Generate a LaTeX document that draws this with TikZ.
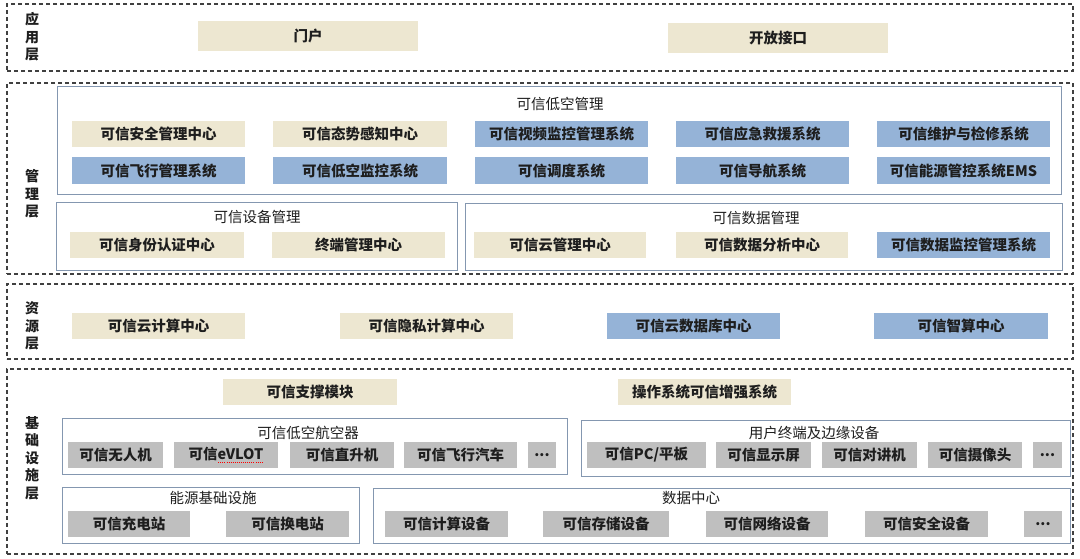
\documentclass[tikz,border=0pt]{standalone}
\usepackage{fontspec}
\setmainfont{Noto Sans CJK SC}
\definecolor{beige}{HTML}{EDE7D1}
\definecolor{lblue}{HTML}{95B3D7}
\definecolor{lgray}{HTML}{BFBFBF}
\definecolor{grpline}{HTML}{8497B0}
\definecolor{dashc}{HTML}{404040}
\definecolor{txt}{HTML}{1E1E1E}
\newsavebox\sqbox
\newcommand\squig[1]{\sbox\sqbox{#1}\rlap{\raisebox{-2.5pt}{\color{red}\hbox to \wd\sqbox{\xleaders\hbox to 2pt{\hss\rule{1pt}{0.7pt}\hss}\hfill}}}\usebox\sqbox}
% name, style, x1, y1, x2, y2, text
\newcommand\rbox[7]{\node[#2,minimum width={(#5-#3)*1pt},minimum height={(#6-#4)*1pt}] (#1) at ({(#3+#5)/2},{(#4+#6)/2}) {#7};}
\begin{document}
\begin{tikzpicture}[x=1pt,y=-1pt,
 cell/.style={inner sep=0pt, outer sep=0pt, font=\fontsize{14.5}{16}\selectfont\bfseries, text=txt},
 grp/.style={draw=grpline, line width=1pt, inner sep=0pt},
 layer/.style={draw=dashc, line width=1.1pt, dash pattern=on 4pt off 3pt, inner sep=0pt},
 ttl/.style={font=\fontsize{14.5}{16}\selectfont, text=txt, inner sep=0pt},
 lab/.style={font=\fontsize{14}{17.5}\selectfont\bfseries, align=center, text=txt, inner sep=0pt},
 bg/.style={cell,fill=beige}, bl/.style={cell,fill=lblue}, gy/.style={cell,fill=lgray}]
\useasboundingbox (0,0) rectangle (1080,559);
\fill[white] (0,0) rectangle (1080,559);
% layers
\rbox{L1}{layer}{7}{4}{1073}{71}{}
\rbox{L2}{layer}{7}{83}{1073}{274}{}
\rbox{L3}{layer}{7}{284}{1073}{359}{}
\rbox{L4}{layer}{7}{369}{1073}{554}{}
\node[lab] (lab1) at (32,37) {应\\用\\层};
\node[lab] (lab2) at (32,194) {管\\理\\层};
\node[lab] (lab3) at (32,326) {资\\源\\层};
\node[lab] (lab4) at (32,458) {基\\础\\设\\施\\层};
% layer 1
\rbox{menhu}{bg}{198}{21}{418}{51}{门户}
\rbox{kaifang}{bg}{668}{23}{888}{53}{开放接口}
% layer 2
\rbox{g1}{grp}{57}{87}{1061}{195}{}
\node[ttl] (t1) at (560,104) {可信低空管理};
\rbox{a1}{bg}{72}{121}{245}{147}{可信安全管理中心}
\rbox{a2}{bg}{273}{121}{447}{147}{可信态势感知中心}
\rbox{a3}{bl}{475}{121}{648}{147}{可信视频监控管理系统}
\rbox{a4}{bl}{676}{121}{849}{147}{可信应急救援系统}
\rbox{a5}{bl}{877}{121}{1050}{147}{可信维护与检修系统}
\rbox{b1}{bl}{72}{157}{245}{184}{可信飞行管理系统}
\rbox{b2}{bl}{273}{157}{447}{184}{可信低空监控系统}
\rbox{b3}{bl}{475}{157}{648}{184}{可信调度系统}
\rbox{b4}{bl}{676}{157}{849}{184}{可信导航系统}
\rbox{b5}{bl}{877}{157}{1050}{184}{可信能源管控系统EMS}
\rbox{g2}{grp}{56}{203}{457}{270}{}
\node[ttl] (t2) at (257,217) {可信设备管理};
\rbox{c1}{bg}{70}{232}{244}{258}{可信身份认证中心}
\rbox{c2}{bg}{272}{232}{445}{258}{终端管理中心}
\rbox{g3}{grp}{465}{204}{1062}{270}{}
\node[ttl] (t3) at (756,218) {可信数据管理};
\rbox{d1}{bg}{474}{232}{646}{258}{可信云管理中心}
\rbox{d2}{bg}{676}{232}{848}{258}{可信数据分析中心}
\rbox{d3}{bl}{877}{232}{1050}{258}{可信数据监控管理系统}
% layer 3
\rbox{r1}{bg}{72}{313}{245}{339}{可信云计算中心}
\rbox{r2}{bg}{340}{313}{513}{339}{可信隐私计算中心}
\rbox{r3}{bl}{607}{313}{780}{339}{可信云数据库中心}
\rbox{r4}{bl}{874}{313}{1048}{339}{可信智算中心}
% layer 4
\rbox{s1}{bg}{223}{379}{397}{405}{可信支撑模块}
\rbox{s2}{bg}{618}{379}{791}{405}{操作系统可信增强系统}
\rbox{g4}{grp}{62}{418}{567}{474}{}
\node[ttl] (t4) at (308,433) {可信低空航空器};
\rbox{e1}{gy}{68}{442}{163}{468}{可信无人机}
\rbox{e2}{gy}{174}{442}{278}{468}{可信\squig{eVLOT}}
\rbox{e3}{gy}{290}{442}{394}{468}{可信直升机}
\rbox{e4}{gy}{404}{442}{517}{468}{可信飞行汽车}
\rbox{e5}{gy}{528}{442}{556}{468}{...}
\rbox{g5}{grp}{581}{420}{1070}{476}{}
\node[ttl] (t5) at (814,433) {用户终端及边缘设备};
\rbox{f1}{gy}{587}{442}{706}{468}{可信PC/平板}
\rbox{f2}{gy}{716}{442}{811}{468}{可信显示屏}
\rbox{f3}{gy}{822}{442}{917}{468}{可信对讲机}
\rbox{f4}{gy}{928}{442}{1022}{468}{可信摄像头}
\rbox{f5}{gy}{1033}{442}{1062}{468}{...}
\rbox{g6}{grp}{62}{487}{359}{543}{}
\node[ttl] (t6) at (213,498) {能源基础设施};
\rbox{h1}{gy}{68}{511}{190}{537}{可信充电站}
\rbox{h2}{gy}{226}{511}{349}{537}{可信换电站}
\rbox{g7}{grp}{373}{488}{1070}{543}{}
\node[ttl] (t7) at (691,498) {数据中心};
\rbox{k1}{gy}{385}{511}{508}{537}{可信计算设备}
\rbox{k2}{gy}{543}{511}{669}{537}{可信存储设备}
\rbox{k3}{gy}{706}{511}{828}{537}{可信网络设备}
\rbox{k4}{gy}{865}{511}{988}{537}{可信安全设备}
\rbox{k5}{gy}{1024}{511}{1062}{537}{...}
\end{tikzpicture}
\end{document}
